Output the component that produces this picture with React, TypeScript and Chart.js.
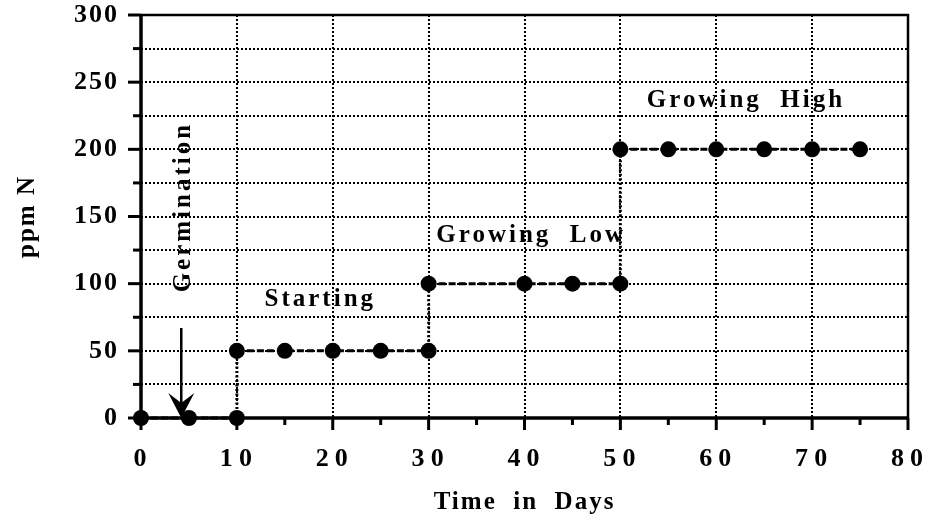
import React, { useEffect, useRef } from 'react';
import { Chart, registerables } from 'chart.js';

Chart.register(...registerables);

// ---- data ----
const days = [0, 5, 10, 10, 15, 20, 25, 30, 30, 40, 45, 50, 50, 55, 60, 65, 70, 75];
const ppmN = [0, 0, 0, 50, 50, 50, 50, 50, 100, 100, 100, 100, 200, 200, 200, 200, 200, 200];

const xTitle = 'Time  in  Days';
const yTitle = 'ppm N';

const phaseLabels = ['Starting', 'Growing  Low', 'Growing  High'];
const phaseDays = [18.7, 40.7, 63.1];
const phasePpm = [88, 136, 236];

const germinationLabel = 'Germination';
const germinationDay = [4.4];
const germinationPpm = [157];
const arrowDay = [4.2];
const arrowFromPpm = [67];
const arrowToPpm = [0];

const FONT = '"Liberation Serif", "Times New Roman", serif';

const zeroPad = (s: any) => {
  s.paddingTop = 0;
  s.paddingBottom = 0;
  s.paddingLeft = 0;
  s.paddingRight = 0;
};

const decorPlugin = {
  id: 'decor',
  beforeUpdate(chart: any) {
    chart.ctx.letterSpacing = '2px';
  },
  beforeDraw(chart: any) {
    chart.ctx.letterSpacing = '2px';
  },
  afterDatasetsDraw(chart: any) {
    const { ctx, chartArea } = chart;
    const { left, right, top, bottom } = chartArea;
    const xs = chart.scales.x;
    const ys = chart.scales.y;
    ctx.save();
    ctx.strokeStyle = '#000';
    ctx.fillStyle = '#000';
    ctx.setLineDash([]);
    ctx.lineCap = 'butt';
    // frame
    ctx.lineWidth = 2.5;
    ctx.beginPath();
    ctx.moveTo(left, top);
    ctx.lineTo(right, top);
    ctx.lineTo(right, bottom);
    ctx.stroke();
    ctx.lineWidth = 3.5;
    ctx.beginPath();
    ctx.moveTo(left, top - 1);
    ctx.lineTo(left, bottom);
    ctx.lineTo(right + 1, bottom);
    ctx.stroke();
    // tick marks
    ctx.lineWidth = 3;
    for (let v = 0; v <= 80; v += 5) {
      const px = xs.getPixelForValue(v);
      const len = v % 10 === 0 ? 12 : 7;
      ctx.beginPath();
      ctx.moveTo(px, bottom);
      ctx.lineTo(px, bottom + len);
      ctx.stroke();
    }
    for (let v = 0; v <= 300; v += 25) {
      const py = ys.getPixelForValue(v);
      const len = v % 50 === 0 ? 13 : 8;
      ctx.beginPath();
      ctx.moveTo(left - len, py);
      ctx.lineTo(left, py);
      ctx.stroke();
    }
    // phase labels
    ctx.font = `bold 25px ${FONT}`;
    ctx.letterSpacing = '3px';
    ctx.textAlign = 'center';
    ctx.textBaseline = 'middle';
    phaseLabels.forEach((t, i) => {
      ctx.fillText(t, xs.getPixelForValue(phaseDays[i]), ys.getPixelForValue(phasePpm[i]));
    });
    // germination (rotated)
    ctx.save();
    ctx.translate(xs.getPixelForValue(germinationDay[0]), ys.getPixelForValue(germinationPpm[0]));
    ctx.rotate(-Math.PI / 2);
    ctx.fillText(germinationLabel, 0, 0);
    ctx.restore();
    // arrow
    const ax = xs.getPixelForValue(arrowDay[0]);
    const ay0 = ys.getPixelForValue(arrowFromPpm[0]);
    const ay1 = ys.getPixelForValue(arrowToPpm[0]);
    ctx.lineWidth = 2.5;
    ctx.beginPath();
    ctx.moveTo(ax, ay0);
    ctx.lineTo(ax, ay1 - 10);
    ctx.stroke();
    ctx.beginPath();
    ctx.moveTo(ax, ay1);
    ctx.lineTo(ax - 13, ay1 - 25);
    ctx.lineTo(ax, ay1 - 15);
    ctx.lineTo(ax + 13, ay1 - 25);
    ctx.closePath();
    ctx.fill();
    ctx.restore();
  },
};

export default function App() {
  const ref = useRef<HTMLCanvasElement | null>(null);
  useEffect(() => {
    document.body.style.margin = '0';
    const canvas = ref.current;
    if (!canvas) return;
    const chart = new Chart(canvas, {
      type: 'line',
      data: {
        datasets: [
          {
            data: days.map((d, i) => ({ x: d, y: ppmN[i] })),
            borderColor: '#000',
            backgroundColor: '#000',
            borderWidth: 3,
            pointRadius: 8,
            pointBorderWidth: 0,
            pointBackgroundColor: '#000',
            clip: false as any,
            segment: {
              borderDash: (c: any) => (c.p0.parsed.x === c.p1.parsed.x ? [2, 2.5] : [7, 3]),
            },
          },
        ],
      },
      options: {
        animation: false,
        responsive: false,
        devicePixelRatio: 1,
        layout: { padding: { top: 15, right: 19, left: 0, bottom: 0 } },
        plugins: { legend: { display: false }, tooltip: { enabled: false } },
        scales: {
          x: {
            type: 'linear',
            min: 0,
            max: 80,
            afterFit: (s: any) => {
              s.height = 100;
              zeroPad(s);
            },
            ticks: {
              stepSize: 5,
              autoSkip: false,
              maxRotation: 0,
              padding: 26,
              color: '#000',
              font: { family: FONT, size: 26, weight: 'bold' },
              callback: (v: any) => (Number(v) % 10 === 0 ? String(v).split('').join('\u200A') : ''),
            },
            grid: {
              drawTicks: false,
              lineWidth: 2,
              color: (c: any) =>
                c.tick && c.tick.value % 10 === 0 && c.tick.value > 0 && c.tick.value < 80 ? '#000' : 'rgba(0,0,0,0)',
            },
            border: { display: false, dash: [2, 2] },
            title: {
              display: true,
              text: xTitle,
              color: '#000',
              font: { family: FONT, size: 25, weight: 'bold' },
              padding: { top: 0, bottom: 0 },
            },
          },
          y: {
            type: 'linear',
            min: 0,
            max: 300,
            afterFit: (s: any) => {
              s.width = 141;
              zeroPad(s);
            },
            ticks: {
              stepSize: 25,
              autoSkip: false,
              padding: 22,
              color: '#000',
              font: { family: FONT, size: 26, weight: 'bold' },
              callback: (v: any) => (Number(v) % 50 === 0 ? String(v) : ''),
            },
            grid: {
              drawTicks: false,
              lineWidth: 2,
              color: (c: any) =>
                c.tick && c.tick.value > 0 && c.tick.value < 300 ? '#000' : 'rgba(0,0,0,0)',
            },
            border: { display: false, dash: [2, 2] },
            title: {
              display: true,
              text: yTitle,
              color: '#000',
              font: { family: FONT, size: 25, weight: 'bold' },
              padding: { top: 13, bottom: 0 },
            },
          },
        },
      },
      plugins: [decorPlugin],
    } as any);
    return () => chart.destroy();
  }, []);
  return (
    <div style={{ width: 927, height: 518, overflow: 'hidden', background: '#fff' }}>
      <canvas ref={ref} width={927} height={518} style={{ display: 'block' }} />
    </div>
  );
}
